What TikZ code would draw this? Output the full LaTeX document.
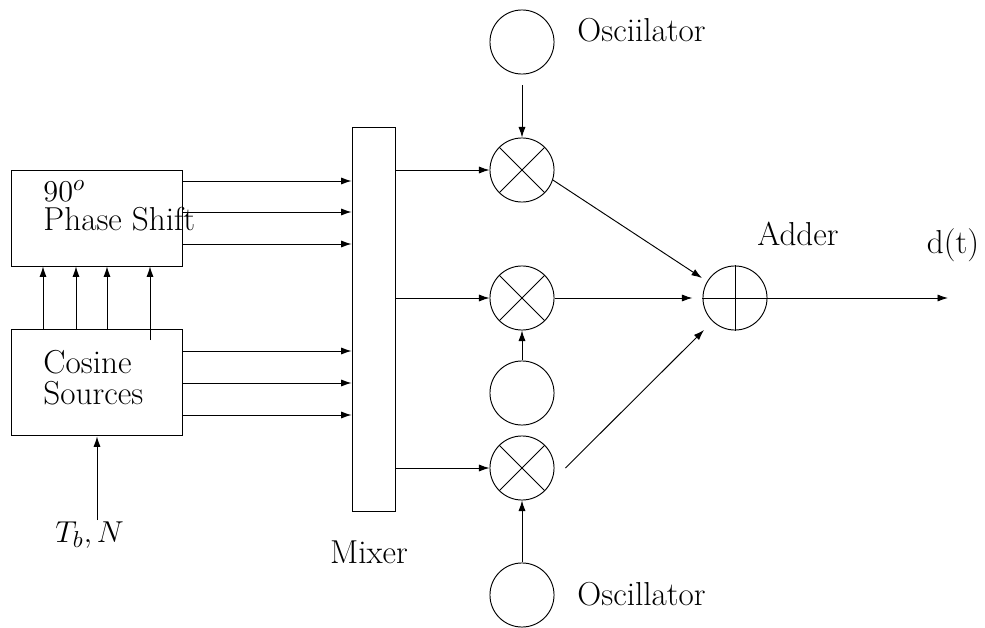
\documentclass[tikz,border=0pt]{standalone}
\usepackage{fontspec}
\usetikzlibrary{arrows.meta, calc, positioning}
\tikzset{MixerChart/.style={
    x = 0.476pt, y = -0.476pt,
    font = \fontsize{15.8}{18}\selectfont,
    line width = 0.45pt,
    block/.style = {draw, inner sep=0pt, minimum width=81.4pt},
    osc/.style = {draw, circle, inner sep=0pt, minimum size=30.5pt},
    tag/.style = {inner sep=0pt},
    link/.style = {arrows=-{Latex[length=5pt, width=3.4pt]}}
}}

\begin{document}
\begin{tikzpicture}[MixerChart]
        \useasboundingbox (0,0) rectangle (985,628);

        \node [block, minimum height=45.7pt] (phase) at (96.5,218) {};
        \node [block, minimum height=50.9pt] (cosine) at (96.5,382.5) {};
        \node [draw, inner sep=0pt, minimum width=20.9pt, minimum height=182.8pt] (mixer) at (374,319) {};

        \node [tag, anchor=base west] (ninety) at (43,201) {$90^o$};
        \node [tag, anchor=base west] (phtext) at (43,230) {Phase Shift};
        \node [tag, anchor=base west] (costext) at (43,373) {Cosine};
        \node [tag, anchor=base west] (srctext) at (43,404) {Sources};
        \node [tag, anchor=base west] (tbn) at (55,542) {$T_b, N$};
        \node [tag, anchor=base] (mixtext) at (369,563) {Mixer};

        \node [osc] (o1) at (522,42) {};
        \node [osc] (o2) at (522,393) {};
        \node [osc] (o3) at (522,595) {};
        \node [osc] (m1) at (522,170) {};
        \node [osc] (m2) at (522,298) {};
        \node [osc] (m3) at (522,468) {};
        \node [osc] (add) at (735,298) {};

        \node [tag, anchor=base west] (o1text) at (577,42) {Osciilator};
        \node [tag, anchor=base west] (o3text) at (577,605) {Oscillator};
        \node [tag, anchor=base] (addtext) at (798,245) {Adder};
        \node [tag, anchor=base] (outtext) at (953,253) {d(t)};

        \coordinate (c4) at (150,340);
        \coordinate (tbin) at (97,520);
        \coordinate (out) at (948,298);

        \foreach \m in {m1, m2, m3}
            \draw (\m.north east) -- (\m.south west) (\m.north west) -- (\m.south east);
        \draw (add.north) -- (add.south) (add.west) -- (add.east);

        \foreach \y in {181, 212, 244}
            \draw [link] (phase.east |- 0,\y) -- (mixer.west |- 0,\y);
        \foreach \y in {351, 383, 415}
            \draw [link] (cosine.east |- 0,\y) -- (mixer.west |- 0,\y);
        \foreach \x in {43, 76, 107}
            \draw [link] (cosine.north -| \x,0) -- (phase.south -| \x,0);

        \path [every edge/.append style={link}]
        (c4) edge (phase.south -| c4)
        (tbin) edge (cosine.south -| tbin)
        (mixer.east |- m1) edge (m1.west)
        (mixer.east |- m2) edge (m2.west)
        (mixer.east |- m3) edge (m3.west)
        ([yshift=-5.2pt]o1.south) edge (m1.north)
        (o2.north) edge (m2.south)
        (o3.north) edge (m3.south)
        (m1.-18) edge ([shift={(-33,-20)}]add.center)
        (m2.east) edge ([xshift=-4.8pt]add.west)
        ([xshift=5.2pt]m3.east) edge ([shift={(-31,32)}]add.center)
        (add.east) edge (out);
    \end{tikzpicture}
\end{document}
